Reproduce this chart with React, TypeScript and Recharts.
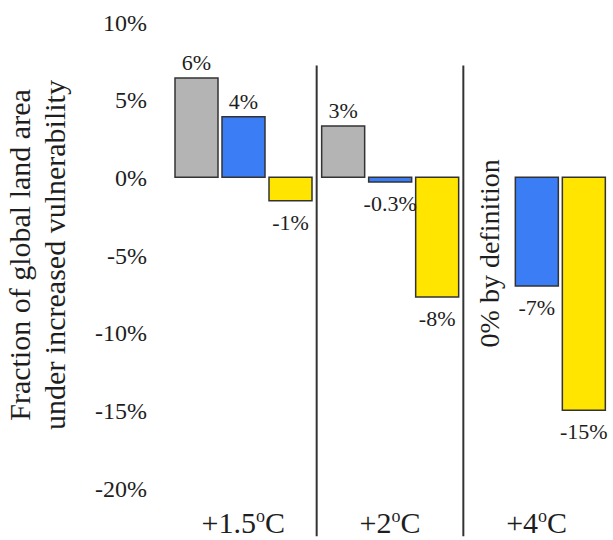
import { BarChart, Bar, XAxis, YAxis, ReferenceLine, LabelList } from "recharts";

const CATEGORIES = ["+1.5", "+2", "+4"];
const GRAY_VALUES = [6.4, 3.3, 0];
const BLUE_VALUES = [3.9, -0.3, -7.0];
const YELLOW_VALUES = [-1.5, -7.7, -15.0];
const GRAY_LABELS = ["6%", "3%", ""];
const BLUE_LABELS = ["4%", "-0.3%", "-7%"];
const YELLOW_LABELS = ["-1%", "-8%", "-15%"];
const ZERO_NOTE = "0% by definition";
const Y_TICKS = [-20, -15, -10, -5, 0, 5, 10];
const Y_LABEL_LINES = ["Fraction of global land area", "under increased vulnerability"];
const SEPARATOR_SPAN = [7.2, -23.1];

const FONT = "'Liberation Serif', 'Times New Roman', serif";
const TEXT = "#1e1e1e";
const BAR_GAP = 4;

const data = CATEGORIES.map((c, i) => ({
  cat: c,
  gray: GRAY_VALUES[i],
  blue: BLUE_VALUES[i],
  yellow: YELLOW_VALUES[i],
}));

function makeValueLabel(values: number[], labels: string[], withNote = false) {
  return (props: any) => {
    const { x, y, width, height, index } = props;
    const v = values[index];
    const cx = x + width / 2;
    const top = Math.min(y, y + height);
    const bottom = Math.max(y, y + height);
    const ty = v > 0 ? top - 8 : bottom + 29;
    // the gray bar of this group is 0 by definition, so its slot (left of blue) gets a note
    const noteHere = withNote && GRAY_VALUES[index] === 0;
    const nx = x - BAR_GAP - width / 2;
    const ny = top + 76;
    return (
      <g>
        <text x={cx} y={ty} textAnchor="middle" fontFamily={FONT} fontSize={22} fill={TEXT}>
          {labels[index]}
        </text>
        {noteHere && (
          <text
            x={nx}
            y={ny}
            transform={`rotate(-90 ${nx} ${ny})`}
            textAnchor="middle"
            dominantBaseline="central"
            fontFamily={FONT}
            fontSize={28}
            fill={TEXT}
          >
            {ZERO_NOTE}
          </text>
        )}
      </g>
    );
  };
}

function CategoryTick(props: any) {
  const { x, y, payload } = props;
  return (
    <text x={x} y={y + 45} textAnchor="middle" fontFamily={FONT} fontSize={30} fill={TEXT}>
      {payload.value}
      <tspan fontSize={18} dy={-11}>o</tspan>
      <tspan dy={11}>C</tspan>
    </text>
  );
}

function YLabel(props: any) {
  const { viewBox } = props;
  const cy = viewBox.y + viewBox.height / 2;
  return (
    <g>
      {Y_LABEL_LINES.map((line, i) => {
        const bx = 30 + i * 35;
        return (
          <text
            key={i}
            x={bx}
            y={cy}
            transform={`rotate(-90 ${bx} ${cy})`}
            textAnchor="middle"
            fontFamily={FONT}
            fontSize={30}
            fill={TEXT}
          >
            {line}
          </text>
        );
      })}
    </g>
  );
}

export default function App() {
  return (
    <div style={{ position: "absolute", left: 0, top: 0, background: "#fff" }}>
      <BarChart
        width={613}
        height={540}
        data={data}
        margin={{ top: 22, right: 3, left: 0, bottom: 0 }}
        barCategoryGap={5}
        barGap={BAR_GAP}
      >
        <XAxis
          dataKey="cat"
          axisLine={false}
          tickLine={false}
          tickSize={0}
          tickMargin={0}
          height={52}
          tick={<CategoryTick />}
          interval={0}
        />
        <YAxis
          type="number"
          domain={[-20, 10]}
          ticks={Y_TICKS}
          tickFormatter={(v) => `${v}%`}
          axisLine={false}
          tickLine={false}
          tickSize={0}
          tickMargin={23}
          width={170}
          tick={{ fontFamily: FONT, fontSize: 24, fill: TEXT }}
          label={<YLabel />}
        />
        <Bar dataKey="gray" fill="#b4b4b4" stroke="#333" strokeWidth={1.5} isAnimationActive={false}>
          <LabelList dataKey="gray" content={makeValueLabel(GRAY_VALUES, GRAY_LABELS)} />
        </Bar>
        <Bar dataKey="blue" fill="#3b7df5" stroke="#333" strokeWidth={1.5} isAnimationActive={false}>
          <LabelList dataKey="blue" content={makeValueLabel(BLUE_VALUES, BLUE_LABELS, true)} />
        </Bar>
        <Bar dataKey="yellow" fill="#ffe500" stroke="#333" strokeWidth={1.5} isAnimationActive={false}>
          <LabelList dataKey="yellow" content={makeValueLabel(YELLOW_VALUES, YELLOW_LABELS)} />
        </Bar>
        {CATEGORIES.slice(0, 2).map((c) => (
          <ReferenceLine
            key={c}
            segment={[
              { x: c, y: SEPARATOR_SPAN[0] },
              { x: c, y: SEPARATOR_SPAN[1] },
            ]}
            position="end"
            ifOverflow="visible"
            stroke="#333"
            strokeWidth={2}
          />
        ))}
      </BarChart>
    </div>
  );
}
